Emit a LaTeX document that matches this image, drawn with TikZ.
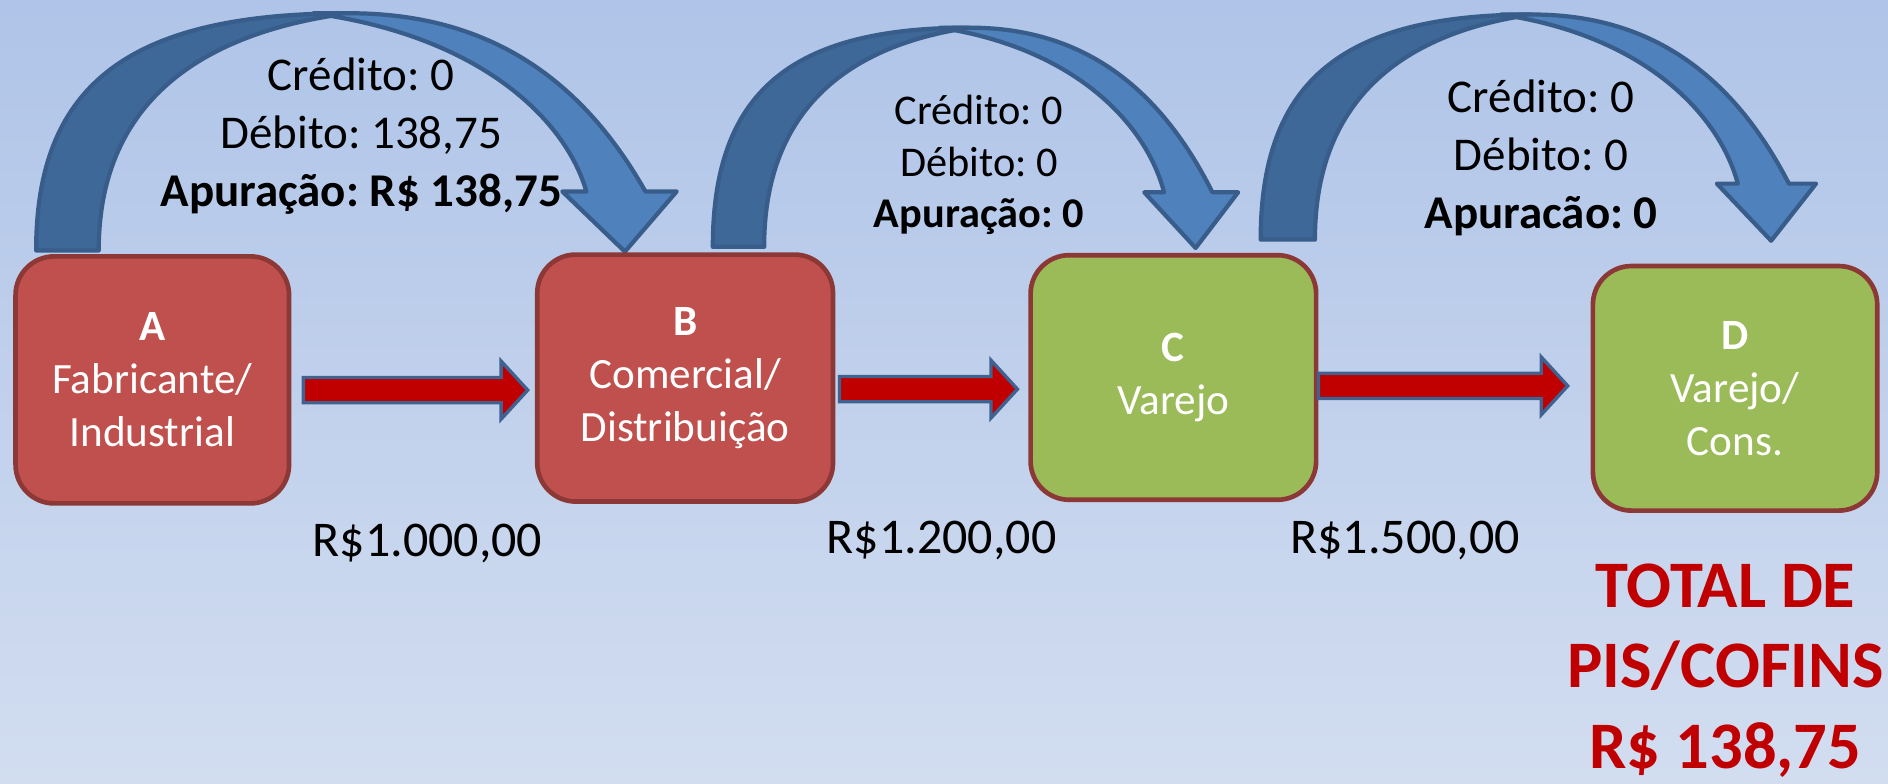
\documentclass[tikz,border=0pt]{standalone}
\usepackage{fontspec}
\setmainfont{Carlito}
\frenchspacing
\usetikzlibrary{calc}

\definecolor{bgtop}{HTML}{AFC4E8}
\definecolor{bgbottom}{HTML}{D2DDF0}
\definecolor{boxred}{HTML}{C0504D}
\definecolor{boxgreen}{HTML}{9BBB59}
\definecolor{boxline}{HTML}{8C3836}
\definecolor{arcfront}{HTML}{4F81BD}
\definecolor{arcback}{HTML}{3E6897}
\definecolor{arcline}{HTML}{385D8A}
\definecolor{flowred}{HTML}{C00000}
\definecolor{flowline}{HTML}{3F6291}

% blue curved arrow, origin at the outer foot of its left leg
\newcommand{\curvedarrow}[4]{%
\begin{scope}[shift={(#1,#2)},xscale=#3,yscale=#4]
\filldraw[fill=arcback,draw=arcline,line width=1pt,line join=round]
 (0,0) .. controls (0,-140) and (80,-197) .. (260,-197)
 .. controls (130,-180) and (52,-118) .. (52,0) -- cycle;
\filldraw[fill=arcfront,draw=arcline,line width=1pt,line join=round]
 (230,-197) -- (260,-197) .. controls (370,-197) and (450,-148) .. (506,-49)
 -- (532,-49) -- (489,1) -- (437,-49) -- (457,-49)
 .. controls (440,-108) and (370,-178) .. (230,-197) -- cycle;
\end{scope}}

\tikzset{
 stage/.style={draw=boxline,line width=1.1pt,rounded corners=0.32cm,align=center,
  text=white,inner sep=0pt,font=\fontsize{10.2}{12.5}\selectfont},
 flow/.style={fill=flowred,draw=flowline,line width=0.8pt,line join=miter},
 amount/.style={inner sep=0pt,font=\fontsize{11.8}{14}\selectfont},
 tax/.style={inner sep=0pt,align=center}
}

\begin{document}
\begin{tikzpicture}[x=0.01cm,y=-0.01cm]
\useasboundingbox (0,0) rectangle (1568,650.3);
\shade[top color=bgtop,bottom color=bgbottom] (0,0) rectangle (1568,650.3);

% curved arrows
\curvedarrow{30}{208}{1}{1}
\curvedarrow{592}{205}{0.82}{0.924}
\curvedarrow{1047}{199}{0.867}{0.949}

% stages
\node[stage,fill=boxred,minimum width=2.27cm,minimum height=2.05cm] (A) at (126.5,315.5) {\textbf{A}\\Fabricante/\\Industrial};
\node[stage,fill=boxred,minimum width=2.455cm,minimum height=2.05cm] (B) at (569,314) {\textbf{B}\\Comercial/\\Distribuição};
\node[stage,fill=boxgreen,minimum width=2.37cm,minimum height=2.03cm] (C) at (974.5,313.5) {\textbf{C}\\Varejo};
\node[stage,fill=boxgreen,minimum width=2.36cm,minimum height=2.03cm] (D) at (1441,322.5) {\textbf{D}\\Varejo/\\Cons.};

% red arrows
\foreach \a/\b/\ga/\gb/\dy in {A/B/10/6/8.5, B/C/3.5/9/9.2, C/D/0/19/7}{%
\coordinate (s) at ($(\a.east)+(\ga,\dy)$);
\coordinate (e) at ($(\b.west)+(-\gb,0)$);
\coordinate (t) at (e|-s);
\filldraw[flow] ($(s)+(0,-10.5)$) -- ($(t)+(-22,-10.5)$) -- ($(t)+(-22,-24)$) -- (t)
 -- ($(t)+(-22,24)$) -- ($(t)+(-22,10.5)$) -- ($(s)+(0,10.5)$) -- cycle;
}

% values
\node[amount] (vab) at (355,451) {R\$1.000,00};
\node[amount] (vbc) at (782,448.5) {R\$1.200,00};
\node[amount] (vcd) at (1167,448.5) {R\$1.500,00};

% taxes
\node[tax,font=\fontsize{11.1}{13.65}\selectfont] (tab) at (300,113) {Crédito: 0\\Débito: 138,75\\\textbf{Apuração: R\$ 138,75}};
\node[tax,font=\fontsize{10}{12.2}\selectfont] (tbc) at (813,137) {Crédito: 0\\Débito: 0\\\textbf{Apuração: 0}};
\node[tax,font=\fontsize{11.1}{13.65}\selectfont] (tcd) at (1280,131) {Crédito: 0\\Débito: 0\\\textbf{Apuracão: 0}};

\node[tax,text=flowred,font=\bfseries\fontsize{15.7}{19.06}\selectfont] (total) at (1433,557) {TOTAL DE\\PIS/COFINS\\R\$ 138,75};
\end{tikzpicture}
\end{document}
